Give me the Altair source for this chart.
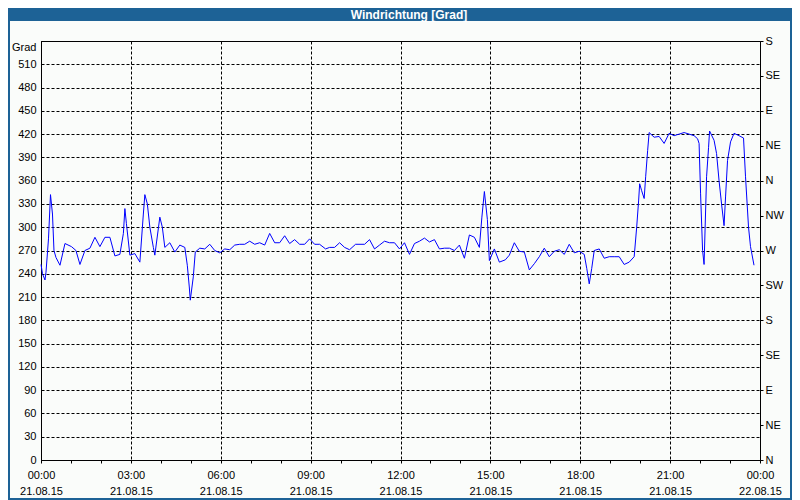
import altair as alt
import pandas as pd

# ---- data ----
minutes = [0, 3, 8, 10, 15, 19, 23, 26, 30, 38, 48, 61, 70, 78, 88, 98, 108, 118, 128, 138,
           148, 158, 165, 168, 171, 178, 188, 198, 205, 208, 213, 218, 225, 228, 238, 243, 248, 258, 268, 278,
           288, 293, 297, 299, 305, 309, 318, 328, 338, 348, 358, 368, 378, 388, 398, 408, 418, 428, 438, 448,
           458, 468, 478, 488, 498, 508, 518, 528, 538, 548, 558, 570, 578, 588, 598, 608, 618, 630, 648, 658,
           668, 678, 688, 698, 708, 718, 728, 738, 748, 758, 768, 778, 788, 798, 808, 818, 828, 838, 848, 858,
           868, 878, 883, 888, 894, 898, 908, 918, 930, 938, 948, 958, 968, 978, 988, 998, 1008, 1018, 1028, 1038,
           1048, 1058, 1068, 1078, 1088, 1093, 1098, 1103, 1108, 1118, 1128, 1138, 1148, 1158, 1168, 1178, 1188, 1193, 1197, 1199,
           1203, 1208, 1211, 1215, 1218, 1228, 1238, 1248, 1258, 1268, 1278, 1288, 1298, 1308, 1315, 1318, 1321, 1325, 1328, 1333,
           1337, 1339, 1348, 1353, 1358, 1363, 1368, 1371, 1375, 1381, 1388, 1398, 1407, 1411, 1417, 1421, 1428]
degrees = [252, 240, 232, 242, 285, 342, 317, 270, 261, 251, 279, 275, 270, 252, 270, 273, 287, 275, 287, 287,
           263, 265, 292, 324, 305, 264, 266, 255, 317, 342, 330, 300, 274, 264, 313, 300, 274, 280, 268, 277,
           274, 251, 223, 206, 236, 268, 273, 272, 278, 270, 267, 272, 271, 277, 278, 278, 282, 278, 280, 277,
           292, 280, 280, 289, 279, 284, 278, 278, 285, 278, 278, 272, 274, 274, 280, 274, 271, 278, 278, 284,
           272, 277, 282, 280, 280, 272, 280, 265, 279, 282, 286, 281, 284, 272, 273, 273, 270, 277, 260, 290,
           287, 274, 313, 346, 310, 257, 272, 255, 258, 264, 280, 269, 268, 245, 253, 262, 273, 262, 269, 271,
           265, 278, 267, 269, 265, 247, 227, 247, 270, 272, 260, 262, 262, 262, 252, 255, 262, 300, 335, 356,
           347, 337, 365, 399, 422, 416, 417, 408, 421, 418, 420, 422, 420, 418, 414, 408, 343, 270, 252, 365,
           403, 424, 412, 395, 360, 330, 302, 339, 386, 410, 421, 418, 415, 365, 300, 275, 251]

time_labels = ["00:00", "03:00", "06:00", "09:00", "12:00", "15:00", "18:00", "21:00", "00:00"]
date_labels = ["21.08.15", "21.08.15", "21.08.15", "21.08.15", "21.08.15",
               "21.08.15", "21.08.15", "21.08.15", "22.08.15"]
hour_ticks = list(range(0, 25))
grad_ticks = list(range(0, 541, 30))
compass_ticks = list(range(0, 541, 45))
compass_labels = ["N", "NE", "E", "SE", "S", "SW", "W", "NW", "N", "NE", "E", "SE", "S"]
title_text = "Windrichtung [Grad]"
unit_text = "Grad"

df = pd.DataFrame({"h": [m / 60 for m in minutes], "deg": degrees})

FONT = "Liberation Sans"
W, H = 719, 419
PAD_L, PAD_T, PAD_R, PAD_B = 33, 33, 32, 40
BAR = "#1d6296"
DASH = [3, 2]


def js_list(items):
    return "[" + ",".join("'" + s + "'" for s in items) + "]"


x_label_expr = ("datum.value % 3 == 0 ? [" + js_list(time_labels) + "[datum.value / 3], "
                + js_list(date_labels) + "[datum.value / 3]] : ''")

x_scale = alt.Scale(domain=[0, 24], nice=False, zero=False)
y_scale = alt.Scale(domain=[0, 540], nice=False, zero=True)

x_axis = alt.Axis(
    values=hour_ticks, title=None, orient="bottom", labelExpr=x_label_expr, labelFlush=False,
    labelOverlap=False, tickSize=3, labelPadding=6, labelLineHeight=16,
    grid=True, gridDash=DASH, gridColor="black",
    gridOpacity={"condition": {"test": "datum.value % 3 != 0", "value": 0}, "value": 1},
)

y_left = alt.Axis(
    values=grad_ticks, title=None, orient="left", ticks=False, labelPadding=5,
    labelExpr="datum.value == 540 ? '" + unit_text + "' : datum.label",
    labelBaseline={"condition": {"test": "datum.value == 540", "value": "top"}, "value": "middle"},
    labelFlush=False, labelOverlap=False,
    grid=True, gridDash=DASH, gridColor="black",
)

y_right = alt.Axis(
    values=compass_ticks, title=None, orient="right", tickSize=3, labelPadding=2,
    labelExpr=js_list(compass_labels) + "[round(datum.value / 45)]",
    labelFlush=False, labelOverlap=False, grid=False,
)

line = alt.Chart(df).mark_line(color="#0000ff", strokeWidth=1).encode(
    x=alt.X("h:Q", scale=x_scale, axis=x_axis),
    y=alt.Y("deg:Q", scale=y_scale, axis=y_left),
)

line_right = alt.Chart(df).mark_line(strokeOpacity=0).encode(
    x=alt.X("h:Q", scale=x_scale, axis=x_axis),
    y=alt.Y("deg:Q", scale=y_scale, axis=y_right),
)

one = alt.Data(values=[{"t": title_text}])

title_bar = alt.Chart(one).mark_rect(color=BAR).encode(
    x=alt.value(-PAD_L), x2=alt.value(W + PAD_R),
    y=alt.value(-PAD_T), y2=alt.value(-PAD_T + 13),
)

title_txt = alt.Chart(one).mark_text(
    color="white", font=FONT, fontSize=12, fontWeight="bold", align="center", baseline="middle"
).encode(
    text="t:N", x=alt.value(368), y=alt.value(-PAD_T + 6.5),
)

frame = alt.Chart(one).mark_rect(fill=None, stroke=BAR, strokeWidth=2).encode(
    x=alt.value(-PAD_L + 1), x2=alt.value(W + PAD_R - 1),
    y=alt.value(-PAD_T), y2=alt.value(H + PAD_B - 1),
)

chart = alt.layer(title_bar, frame, title_txt, line, line_right).resolve_axis(
    y="independent"
).properties(
    width=W, height=H,
    autosize=alt.AutoSizeParams(type="none"),
    padding={"left": PAD_L, "top": PAD_T, "right": PAD_R, "bottom": PAD_B},
    background="#fafcfa",
).configure_view(
    stroke="black", strokeWidth=1
).configure_axis(
    labelFont=FONT, labelFontSize=11, labelColor="black",
    domainColor="black", tickColor="black", domainWidth=1, tickWidth=1,
)

chart.save("out.html", embed_options={"renderer": "svg", "actions": False})
